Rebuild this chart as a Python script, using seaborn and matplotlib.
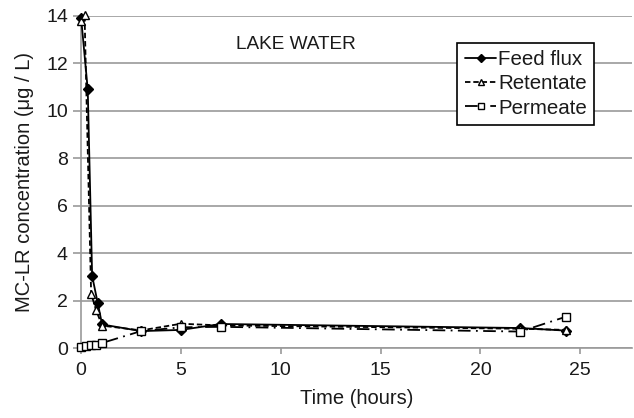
import pandas as pd
import matplotlib.pyplot as plt
import seaborn as sns

# data
feed_t = [0, 0.33, 0.55, 0.83, 1.05, 3, 5, 7, 22, 24.3]
feed_c = [13.9, 10.9, 3.05, 1.9, 1.0, 0.72, 0.77, 1.02, 0.85, 0.74]

ret_t = [0, 0.17, 0.5, 0.75, 1.05, 3, 5, 7, 22, 24.3]
ret_c = [13.8, 14.05, 2.3, 1.6, 0.95, 0.75, 1.03, 0.96, 0.82, 0.77]

perm_t = [0, 0.25, 0.5, 0.75, 1.05, 3, 5, 7, 22, 24.3]
perm_c = [0.05, 0.1, 0.12, 0.15, 0.22, 0.72, 0.88, 0.9, 0.7, 1.33]

x_ticks = [0, 5, 10, 15, 20, 25]
y_ticks = [0, 2, 4, 6, 8, 10, 12, 14]

sns.set_theme(style="white")
plt.rcParams['font.family'] = ['Liberation Sans', 'DejaVu Sans']

fig = plt.figure(figsize=(6.34, 4.18), dpi=100)
ax = fig.add_axes([0.128, 0.167, 0.869, 0.795])

series = [
    ("Feed flux", feed_t, feed_c, dict(marker="D", markersize=5, markerfacecolor="black",
                                         markeredgecolor="black", linestyle="-")),
    ("Retentate", ret_t, ret_c, dict(marker="^", markersize=6, markerfacecolor="white",
                                       markeredgecolor="black", dashes=(3, 1.6))),
    ("Permeate", perm_t, perm_c, dict(marker="s", markersize=6, markerfacecolor="white",
                                        markeredgecolor="black", dashes=(7, 3, 1, 3))),
]

for name, t, c, style in series:
    df = pd.DataFrame({"t": t, "c": c})
    sns.lineplot(data=df, x="t", y="c", ax=ax, color="black", linewidth=1.3,
                 markeredgewidth=1.0, sort=False, label=name, clip_on=False,
                 zorder=3, **style)

ax.set_xlim(0, 27.6)
ax.set_ylim(0, 14)
ax.set_xticks(x_ticks)
ax.set_yticks(y_ticks)
ax.yaxis.grid(True, color="#9a9a9a", linewidth=1.2)
ax.xaxis.grid(False)
for s in ["top", "right"]:
    ax.spines[s].set_visible(False)
for s in ["left", "bottom"]:
    ax.spines[s].set_color("#9a9a9a")
    ax.spines[s].set_linewidth(1.2)
ax.tick_params(axis="both", which="major", labelsize=14, width=1.2,
               color="#9a9a9a", labelcolor="#1a1a1a", direction="out",
               bottom=True, left=True)
ax.tick_params(axis="y", length=5.5, pad=4)
ax.tick_params(axis="x", length=4, pad=6)

ax.set_xlabel("Time (hours)", fontsize=14.5, color="#1a1a1a", labelpad=7)
ax.set_ylabel("MC-LR concentration (\u03bcg / L)", fontsize=14.5, color="#1a1a1a", labelpad=9)

ax.text(0.39, 0.915, "LAKE WATER", transform=ax.transAxes, ha="center", va="center",
        fontsize=13.7, color="#1a1a1a")

leg = ax.legend(loc="upper right", bbox_to_anchor=(0.931, 0.918), fontsize=14.8,
                frameon=True, fancybox=False, framealpha=1, edgecolor="black",
                handlelength=1.55, handletextpad=0.08, borderpad=0.35,
                labelspacing=0.25, borderaxespad=0, markerscale=0.8)
leg.get_frame().set_linewidth(1.2)
for txt in leg.get_texts():
    txt.set_color("#1a1a1a")

fig.savefig("out.png", dpi=100)
